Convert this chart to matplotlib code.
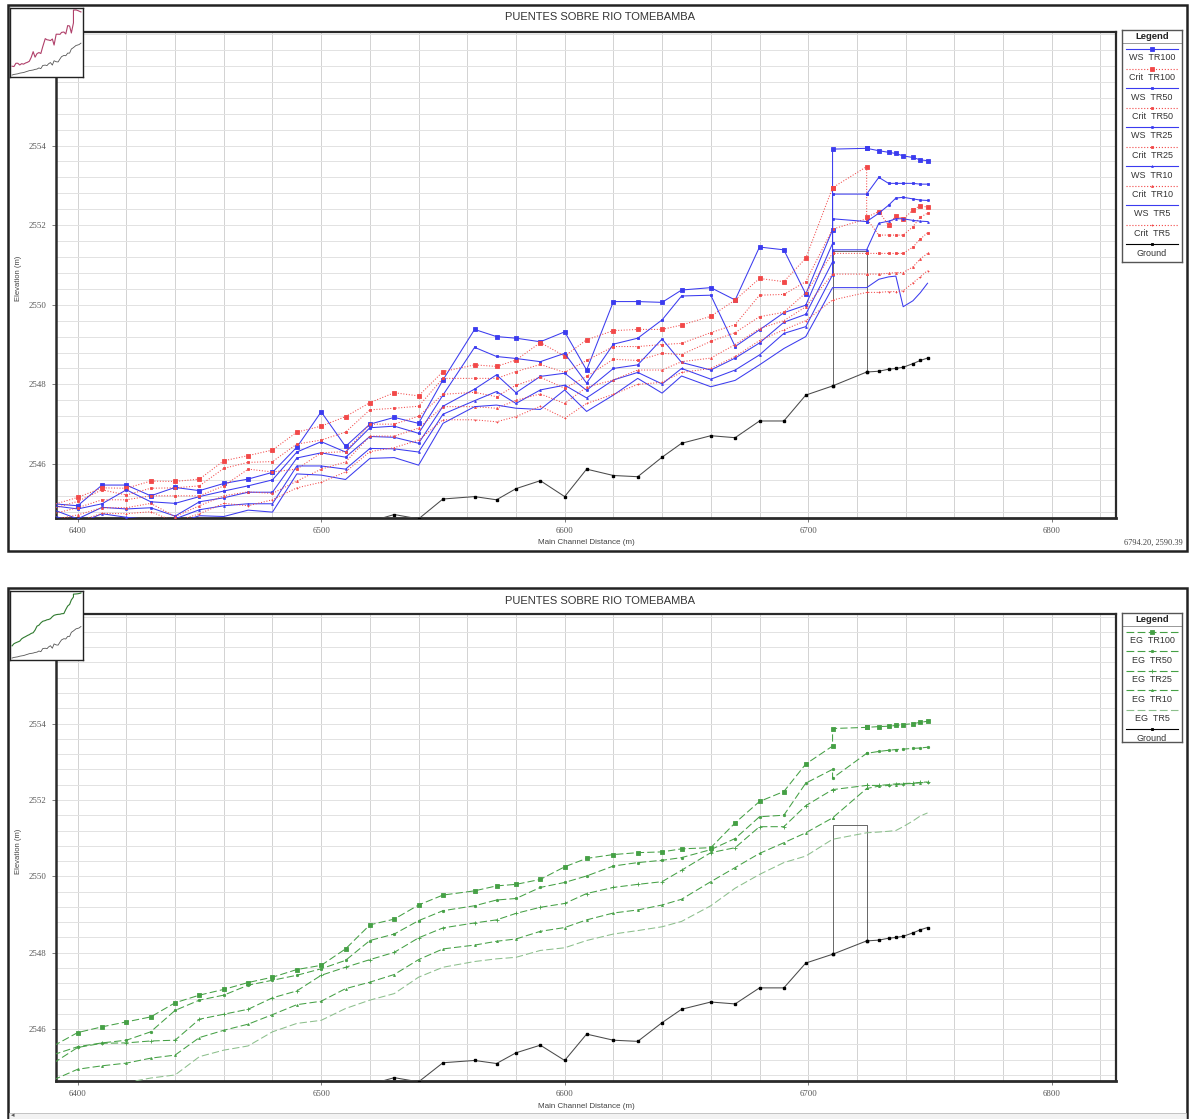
import numpy as np
import matplotlib.pyplot as plt
from matplotlib.patches import Rectangle
from matplotlib.lines import Line2D

plt.rcParams['font.family'] = ['Liberation Sans', 'DejaVu Sans']

W, H = 1189, 1119

# river stations (m); the bridge faces appear twice (outside / inside section)
STATIONS = [6390, 6400, 6410, 6420, 6430, 6440, 6450, 6460, 6470, 6480, 6490,
            6500, 6510, 6520, 6530, 6540, 6550, 6563, 6572, 6580, 6590, 6600,
            6609, 6620, 6630, 6640, 6648, 6660, 6670, 6680, 6690, 6699,
            6710, 6710, 6724, 6724, 6729, 6733, 6736, 6739, 6743, 6746, 6749]

GROUND = [2543.60, 2543.70, 2543.75, 2543.80, 2543.90, 2543.95, 2544.00, 2544.10,
          2544.20, 2544.30, 2544.35, 2544.40, 2544.50, 2544.55, 2544.73, 2544.62,
          2545.12, 2545.18, 2545.10, 2545.38, 2545.58, 2545.18, 2545.87, 2545.71,
          2545.68, 2546.17, 2546.52, 2546.71, 2546.66, 2547.08, 2547.08, 2547.73,
          2547.96, 2547.96, 2548.31, 2548.31, 2548.33, 2548.38, 2548.40, 2548.43,
          2548.52, 2548.60, 2548.66]

BRIDGE_FACES = [6710, 6724]
BRIDGE_DECK = 2551.35

WS_TR100 = [2545.00, 2544.95, 2545.47, 2545.47, 2545.20, 2545.41, 2545.33, 2545.51,
            2545.62, 2545.79, 2546.42, 2547.31, 2546.44, 2547.00, 2547.17, 2547.02,
            2548.11, 2549.38, 2549.20, 2549.16, 2549.07, 2549.32, 2548.36, 2550.08,
            2550.08, 2550.06, 2550.37, 2550.43, 2550.12, 2551.45, 2551.38, 2550.27,
            2551.88, 2553.91, 2553.93, 2553.93, 2553.87, 2553.83, 2553.80, 2553.74,
            2553.70, 2553.64, 2553.62]
WS_TR50 = [2544.95, 2544.87, 2545.00, 2545.35, 2545.05, 2545.01, 2545.18, 2545.32,
           2545.45, 2545.60, 2546.30, 2546.56, 2546.30, 2546.91, 2546.95, 2546.77,
           2547.73, 2548.93, 2548.70, 2548.65, 2548.57, 2548.78, 2548.03, 2549.01,
           2549.16, 2549.62, 2550.22, 2550.24, 2548.95, 2549.37, 2549.80, 2549.99,
           2551.54, 2552.78, 2552.78, 2552.78, 2553.20, 2553.05, 2553.05, 2553.05,
           2553.05, 2553.03, 2553.03]
WS_TR25 = [2544.85, 2544.62, 2544.91, 2544.87, 2544.90, 2544.69, 2545.05, 2545.15,
           2545.29, 2545.29, 2546.15, 2546.28, 2546.17, 2546.69, 2546.67, 2546.52,
           2547.45, 2547.88, 2548.24, 2547.79, 2548.20, 2548.28, 2547.85, 2548.40,
           2548.49, 2549.14, 2548.55, 2548.36, 2548.66, 2549.04, 2549.56, 2549.76,
           2551.08, 2552.16, 2552.09, 2552.09, 2552.30, 2552.50, 2552.68, 2552.70,
           2552.66, 2552.63, 2552.62]
WS_TR10 = [2544.70, 2544.50, 2544.75, 2544.66, 2544.60, 2544.62, 2544.85, 2544.95,
           2545.00, 2545.00, 2545.95, 2545.95, 2545.87, 2546.39, 2546.38, 2546.30,
           2547.25, 2547.59, 2547.82, 2547.52, 2547.86, 2547.98, 2547.66, 2548.11,
           2548.30, 2548.01, 2548.40, 2548.13, 2548.36, 2548.74, 2549.28, 2549.45,
           2550.75, 2551.38, 2551.38, 2551.38, 2552.05, 2552.10, 2552.16, 2552.16,
           2552.12, 2552.10, 2552.09]
WS_TR5 = [2544.55, 2544.40, 2544.55, 2544.50, 2544.40, 2544.50, 2544.70, 2544.68,
          2544.84, 2544.79, 2545.75, 2545.72, 2545.61, 2546.14, 2546.16, 2545.97,
          2547.02, 2547.44, 2547.48, 2547.40, 2547.37, 2547.86, 2547.32, 2547.73,
          2548.15, 2547.78, 2548.21, 2547.94, 2548.10, 2548.49, 2548.90, 2549.20,
          2550.43, 2550.43, 2550.43, 2550.43, 2550.64, 2550.70, 2550.72, 2549.95,
          2550.10, 2550.30, 2550.54]

CRIT_TR100 = [2544.98, 2545.16, 2545.40, 2545.39, 2545.57, 2545.56, 2545.62, 2546.08,
              2546.21, 2546.35, 2546.80, 2546.95, 2547.19, 2547.54, 2547.79, 2547.71,
              2548.32, 2548.49, 2548.45, 2548.61, 2549.05, 2548.71, 2549.12, 2549.35,
              2549.38, 2549.38, 2549.49, 2549.71, 2550.12, 2550.66, 2550.58, 2551.17,
              2552.94, 2552.94, 2553.47, 2552.20, 2552.34, 2552.00, 2552.24, 2552.15,
              2552.38, 2552.49, 2552.45]
CRIT_TR50 = [2544.88, 2545.06, 2545.35, 2545.22, 2545.39, 2545.40, 2545.45, 2545.89,
             2546.04, 2546.06, 2546.50, 2546.60, 2546.80, 2547.36, 2547.40, 2547.45,
             2548.15, 2548.15, 2548.15, 2548.32, 2548.50, 2548.30, 2548.60, 2548.95,
             2548.95, 2549.00, 2549.03, 2549.30, 2549.50, 2550.24, 2550.26, 2550.58,
             2551.90, 2551.90, 2552.16, 2552.16, 2551.75, 2551.75, 2551.75, 2551.75,
             2551.96, 2552.20, 2552.30]
CRIT_TR25 = [2544.75, 2544.90, 2545.10, 2545.10, 2545.20, 2545.20, 2545.20, 2545.45,
             2545.87, 2545.80, 2545.87, 2546.28, 2546.31, 2547.00, 2547.00, 2547.20,
             2547.75, 2547.80, 2547.69, 2547.98, 2548.18, 2547.90, 2548.20, 2548.63,
             2548.60, 2548.78, 2548.75, 2549.08, 2549.30, 2549.70, 2549.81, 2550.30,
             2551.29, 2551.29, 2551.29, 2551.29, 2551.29, 2551.29, 2551.29, 2551.29,
             2551.45, 2551.65, 2551.81]
CRIT_TR10 = [2544.60, 2544.72, 2544.90, 2544.90, 2545.01, 2544.68, 2544.95, 2545.20,
             2545.30, 2545.26, 2545.57, 2545.87, 2546.05, 2546.70, 2546.70, 2546.90,
             2547.44, 2547.44, 2547.40, 2547.60, 2547.76, 2547.52, 2547.93, 2548.11,
             2548.36, 2548.36, 2548.57, 2548.66, 2549.00, 2549.40, 2549.60, 2549.95,
             2550.77, 2550.77, 2550.77, 2550.77, 2550.77, 2550.79, 2550.81, 2550.81,
             2550.95, 2551.15, 2551.29]
CRIT_TR5 = [2544.45, 2544.55, 2544.76, 2544.75, 2544.80, 2544.55, 2544.75, 2545.01,
            2544.95, 2545.10, 2545.40, 2545.54, 2545.80, 2546.31, 2546.41, 2546.60,
            2547.11, 2547.11, 2547.06, 2547.19, 2547.45, 2547.15, 2547.52, 2547.75,
            2548.00, 2548.05, 2548.30, 2548.40, 2548.70, 2549.10, 2549.37, 2549.60,
            2550.12, 2550.12, 2550.31, 2550.31, 2550.31, 2550.33, 2550.33, 2550.35,
            2550.55, 2550.70, 2550.86]

EG_TR100 = [2545.56, 2545.91, 2546.06, 2546.19, 2546.32, 2546.69, 2546.89, 2547.04,
            2547.22, 2547.36, 2547.56, 2547.67, 2548.10, 2548.73, 2548.88, 2549.25,
            2549.51, 2549.62, 2549.75, 2549.79, 2549.92, 2550.25, 2550.47, 2550.57,
            2550.62, 2550.64, 2550.72, 2550.75, 2551.40, 2551.96, 2552.22, 2552.94,
            2553.41, 2553.87, 2553.90, 2553.90, 2553.92, 2553.93, 2553.95, 2553.97,
            2554.00, 2554.03, 2554.06]
EG_TR50 = [2545.33, 2545.54, 2545.64, 2545.71, 2545.93, 2546.49, 2546.76, 2546.89,
           2547.15, 2547.28, 2547.41, 2547.58, 2547.80, 2548.32, 2548.49, 2548.84,
           2549.10, 2549.23, 2549.38, 2549.42, 2549.71, 2549.84, 2550.01, 2550.27,
           2550.36, 2550.42, 2550.49, 2550.70, 2550.99, 2551.56, 2551.60, 2552.44,
           2552.80, 2552.57, 2553.22, 2553.22, 2553.27, 2553.30, 2553.32, 2553.33,
           2553.35, 2553.36, 2553.38]
EG_TR25 = [2545.11, 2545.52, 2545.63, 2545.64, 2545.69, 2545.71, 2546.26, 2546.39,
           2546.52, 2546.82, 2547.00, 2547.41, 2547.62, 2547.82, 2548.01, 2548.39,
           2548.65, 2548.78, 2548.86, 2549.03, 2549.19, 2549.29, 2549.55, 2549.71,
           2549.79, 2549.86, 2550.16, 2550.62, 2550.75, 2551.30, 2551.30, 2551.85,
           2552.27, 2552.27, 2552.38, 2552.38, 2552.38, 2552.40, 2552.42, 2552.43,
           2552.44, 2552.46, 2552.47]
EG_TR10 = [2544.67, 2544.95, 2545.04, 2545.11, 2545.24, 2545.32, 2545.78, 2545.97,
           2546.13, 2546.38, 2546.64, 2546.73, 2547.06, 2547.23, 2547.43, 2547.82,
           2548.10, 2548.20, 2548.30, 2548.36, 2548.56, 2548.66, 2548.86, 2549.04,
           2549.12, 2549.25, 2549.40, 2549.86, 2550.23, 2550.60, 2550.88, 2551.14,
           2551.53, 2551.53, 2552.30, 2552.30, 2552.36, 2552.38, 2552.40, 2552.42,
           2552.43, 2552.45, 2552.46]
EG_TR5 = [2544.30, 2544.40, 2544.50, 2544.60, 2544.72, 2544.80, 2545.28, 2545.45,
          2545.56, 2545.93, 2546.15, 2546.23, 2546.54, 2546.76, 2546.93, 2547.36,
          2547.62, 2547.77, 2547.84, 2547.88, 2548.06, 2548.13, 2548.32, 2548.49,
          2548.58, 2548.68, 2548.82, 2549.23, 2549.69, 2550.05, 2550.36, 2550.53,
          2550.97, 2550.97, 2551.14, 2551.14, 2551.16, 2551.18, 2551.20, 2551.30,
          2551.45, 2551.58, 2551.66]

X_LIM = (6391.1, 6826.4)
Y_LIM = (2544.65, 2556.86)

BLUE = '#3b3bef'
RED = '#f24848'
GREEN = '#45a045'

# (label, values, color, linestyle, marker, markersize)
TOP_SERIES = [
    ('WS  TR100', WS_TR100, BLUE, '-', 's', 2.4),
    ('Crit  TR100', CRIT_TR100, RED, ':', 's', 2.2),
    ('WS  TR50', WS_TR50, BLUE, '-', 's', 1.6),
    ('Crit  TR50', CRIT_TR50, RED, ':', 's', 1.6),
    ('WS  TR25', WS_TR25, BLUE, '-', 's', 1.3),
    ('Crit  TR25', CRIT_TR25, RED, ':', 's', 1.6),
    ('WS  TR10', WS_TR10, BLUE, '-', '^', 1.3),
    ('Crit  TR10', CRIT_TR10, RED, ':', '^', 1.4),
    ('WS  TR5', WS_TR5, BLUE, '-', '', 0),
    ('Crit  TR5', CRIT_TR5, RED, ':', '+', 1.6),
]
BOTTOM_SERIES = [
    ('EG  TR100', EG_TR100, GREEN, (0, (7, 3)), 's', 2.2),
    ('EG  TR50', EG_TR50, GREEN, (0, (7, 3)), 'o', 1.7),
    ('EG  TR25', EG_TR25, GREEN, (0, (7, 3)), '+', 2.2),
    ('EG  TR10', EG_TR10, GREEN, (0, (7, 3)), '^', 1.4),
    ('EG  TR5', EG_TR5, '#8cbf8c', (0, (7, 3)), '', 0),
]


def fbox(x0, y0, x1, y1):
    return [x0 / W, 1 - y1 / H, (x1 - x0) / W, (y1 - y0) / H]


def fpt(x, y):
    return x / W, 1 - y / H


def plot_series(ax, series, lw=0.75):
    for label, vals, color, ls, mk, ms in series:
        ax.plot(STATIONS, vals, color=color, ls=ls, lw=lw, marker=mk or None,
                ms=ms, mfc=color, mec=color, mew=0.6, zorder=3)
    ax.plot(STATIONS, GROUND, color='#4a4a4a', lw=0.75, marker='s', ms=2.0,
            mfc='black', mec='black', zorder=4)


def draw_bridge(ax):
    g0 = GROUND[STATIONS.index(BRIDGE_FACES[0])]
    g1 = GROUND[STATIONS.index(BRIDGE_FACES[1])]
    ax.plot([BRIDGE_FACES[0], BRIDGE_FACES[0], BRIDGE_FACES[1], BRIDGE_FACES[1]],
            [g0, BRIDGE_DECK, BRIDGE_DECK, g1], color='#666666', lw=0.7, zorder=2)


def draw_panel(series, frame_top, axes_top, axes_bottom, xlabel_y, legend_bottom,
               inset_color, show_coords):
    frame_bottom = min(frame_top + 546, 1135)
    fig.add_artist(Rectangle(fpt(8, frame_bottom), 1179 / W,
                             (frame_bottom - frame_top) / H,
                             transform=fig.transFigure, fill=False,
                             ec='#222222', lw=1.8, zorder=0))
    fig.text(*fpt(600, frame_top + 12.5), 'PUENTES SOBRE RIO TOMEBAMBA',
             ha='center', va='center', fontsize=8, color='#333333')

    ax = fig.add_axes(fbox(56, axes_top, 1116, axes_bottom))
    plot_series(ax, series)
    draw_bridge(ax)
    ax.set_xlim(*X_LIM)
    ax.set_ylim(*Y_LIM)
    ax.set_xticks(np.arange(6400, 6801, 100))
    ax.set_xticks(np.arange(6400, 6821, 20), minor=True)
    ax.set_yticks(np.arange(2546, 2555, 2))
    ax.set_yticks(np.arange(2544.8, 2556.81, 0.4), minor=True)
    ax.xaxis.grid(True, which='both', color='#d2d2d2', lw=0.7, zorder=0)
    ax.yaxis.grid(True, which='both', color='#e2e2e2', lw=0.7, zorder=0)
    ax.set_axisbelow(True)
    ax.tick_params(which='minor', length=0)
    ax.tick_params(which='major', length=3, width=0.6, color='#666666',
                   labelsize=6.3, labelcolor='#555555', pad=4)
    for lbl in ax.get_xticklabels() + ax.get_yticklabels():
        lbl.set_family(['Liberation Serif', 'DejaVu Serif'])
    for side, lw in (('left', 1.8), ('bottom', 2.0), ('top', 1.6), ('right', 1.6)):
        ax.spines[side].set_linewidth(lw)
        ax.spines[side].set_color('#2a2a2a')
    fig.text(*fpt(586, xlabel_y), 'Main Channel Distance (m)', ha='center',
             va='center', fontsize=5.8, color='#444444')
    fig.text(*fpt(18, (axes_top + axes_bottom) / 2 + 4), 'Elevation (m)',
             rotation=90, ha='center', va='center', fontsize=5.5, color='#444444')
    if show_coords:
        fig.text(*fpt(1183, xlabel_y), '6794.20, 2590.39', ha='right', va='center',
                 fontsize=6, color='#444444', family=['Liberation Serif', 'DejaVu Serif'])

    # overview thumbnail in the corner
    ins = fig.add_axes(fbox(10, frame_top + 3, 83, frame_top + 72), zorder=5)
    ins.set_facecolor('white')
    ins.plot(STATIONS, series[0][1], color=inset_color, lw=0.8)
    ins.plot(STATIONS, GROUND, color='#555555', lw=0.6)
    ins.margins(0.03)
    ins.set_xticks([])
    ins.set_yticks([])
    for sp in ins.spines.values():
        sp.set_linewidth(1.0)
        sp.set_color('#222222')

    # legend box
    lax = fig.add_axes(fbox(1122, axes_top - 1.7, 1182, legend_bottom), zorder=5)
    lax.set_xlim(0, 1)
    lax.set_ylim(legend_bottom - axes_top + 1.7, 0)
    lax.set_xticks([])
    lax.set_yticks([])
    for sp in lax.spines.values():
        sp.set_linewidth(1.0)
        sp.set_color('#555555')
    lax.text(0.5, 6.5, 'Legend', ha='center', va='center', fontsize=6.8,
             fontweight='bold', color='#222222')
    lax.axhline(13.0, color='#888888', lw=0.6)
    entries = [(lbl, c, ls, mk, ms) for lbl, v, c, ls, mk, ms in series]
    entries.append(('Ground', 'black', '-', 's', 2.0))
    for i, (lbl, c, ls, mk, ms) in enumerate(entries):
        yl = 19.0 + 19.5 * i
        lax.add_line(Line2D([0.06, 0.94], [yl, yl], color=c, ls=ls, lw=0.8))
        if mk:
            lax.plot([0.5], [yl], marker=mk, ms=ms, color=c, mfc=c, mec=c, mew=0.6)
        lax.text(0.5, yl + 9.0, lbl, ha='center', va='center', fontsize=6.5,
                 color='#333333')
    return ax


fig = plt.figure(figsize=(W / 100, H / 100), dpi=100)
fig.patch.set_facecolor('white')

draw_panel(TOP_SERIES, 5, 31.7, 517.7, 543, 262, '#b0406a', True)
draw_panel(BOTTOM_SERIES, 588, 614.3, 1080.7, 1106, 742, '#2f7a2f', False)

# horizontal scroll strip along the lower edge
fig.add_artist(Rectangle(fpt(9, 1119), 1177 / W, 6 / H, transform=fig.transFigure,
                         fc='#f2f2f2', ec='#bbbbbb', lw=0.6, zorder=1))
fig.text(*fpt(13, 1115.5), '\u25c2', ha='center', va='center', fontsize=5,
         color='#555555')

fig.savefig('out.png', dpi=100)
